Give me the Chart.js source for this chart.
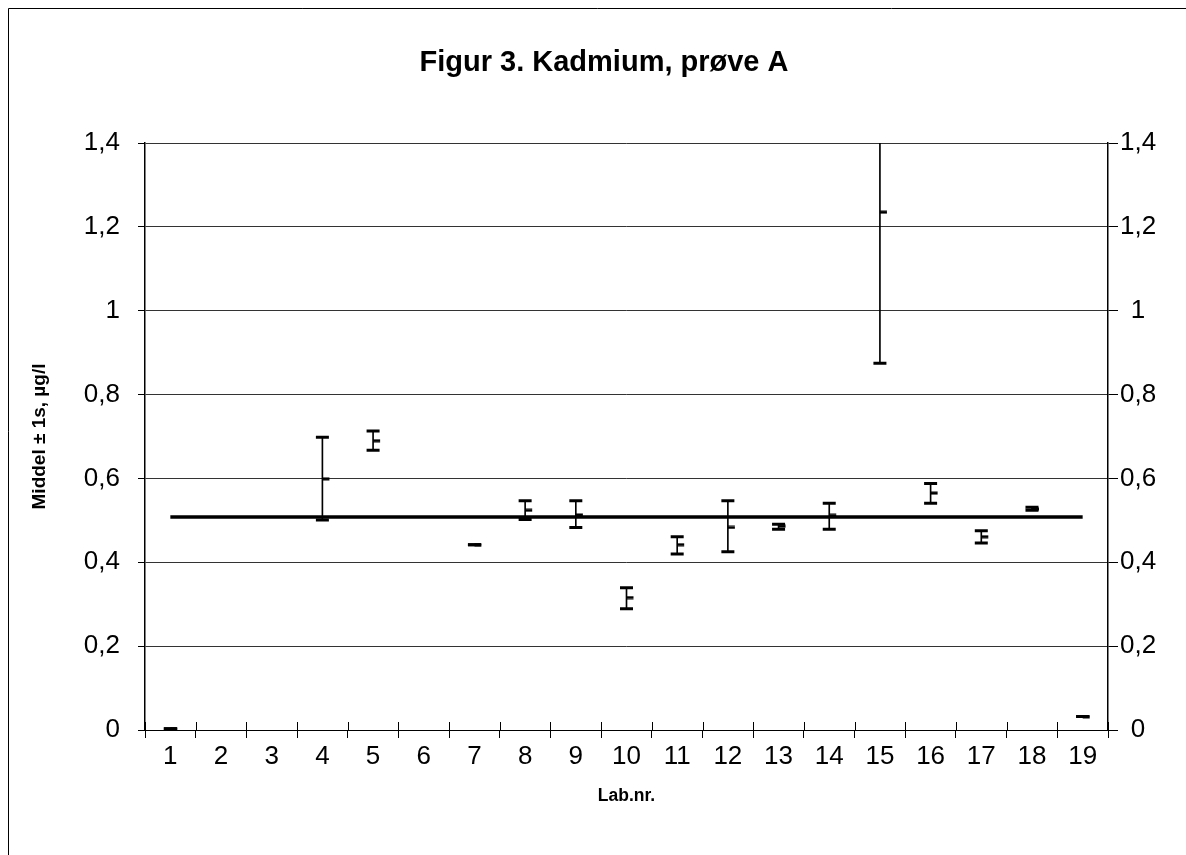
<!DOCTYPE html>
<html>
<head>
<meta charset="utf-8">
<title>Figur 3. Kadmium, prøve A</title>
<script src="https://cdn.jsdelivr.net/npm/chart.js@4/dist/chart.umd.min.js"></script>
<style>
  html, body { margin: 0; padding: 0; background: #fff; }
  #wrap { width: 1186px; height: 855px; position: relative; }
</style>
</head>
<body>
<div id="wrap"><canvas id="grafKadmium"></canvas></div>
<script>
// Lab.nr. 1-19 (2, 3 og 6 uden resultat)
const labNr = ['1', '2', '3', '4', '5', '6', '7', '8', '9', '10',
               '11', '12', '13', '14', '15', '16', '17', '18', '19'];
const middel = [0.003, null, null, 0.599, 0.690, null, 0.442, 0.524, 0.513, 0.316,
                0.442, 0.483, 0.486, 0.512, 1.235, 0.565, 0.461, 0.527, 0.032];
const hoej = [0.003, null, null, 0.698, 0.713, null, 0.442, 0.547, 0.547, 0.339,
              0.461, 0.547, 0.491, 0.541, 1.595, 0.588, 0.475, 0.531, 0.032];
const lav = [0.003, null, null, 0.501, 0.667, null, 0.442, 0.502, 0.483, 0.289,
             0.420, 0.425, 0.479, 0.479, 0.875, 0.541, 0.446, 0.524, 0.032];
const samletMiddel = 0.508;
const yTicks = [0, 0.2, 0.4, 0.6, 0.8, 1, 1.2, 1.4];

const FONT = "'Liberation Sans', Arial, sans-serif";

// kort streg til hoejre for lodret linje (middel-markering)
function lavMiddelStreg() {
    const c = document.createElement('canvas');
    c.width = 16;
    c.height = 4;
    const g = c.getContext('2d');
    g.fillStyle = '#000';
    g.fillRect(8, 0.5, 7, 3);
    return c;
}

function fmt(v) {
    return String(Math.round(v * 10) / 10).replace('.', ',');
}

const baggrund = {
    id: 'baggrund',
    beforeDraw(chart) {
        const ctx = chart.ctx;
        ctx.save();
        ctx.fillStyle = '#fff';
        ctx.fillRect(0, 0, chart.width, chart.height);
        ctx.strokeStyle = '#000';
        ctx.lineWidth = 1;
        ctx.beginPath();
        ctx.moveTo(8.5, chart.height);
        ctx.lineTo(8.5, 8.5);
        ctx.lineTo(chart.width, 8.5);
        ctx.stroke();
        ctx.restore();
    }
};

const overskrift = {
    id: 'overskrift',
    afterDraw(chart) {
        const ctx = chart.ctx;
        ctx.save();
        ctx.fillStyle = '#000';
        ctx.font = 'bold 29px ' + FONT;
        ctx.textAlign = 'center';
        ctx.textBaseline = 'middle';
        ctx.fillText('Figur 3. Kadmium, prøve A', 604, 63);
        ctx.restore();
    }
};

// indvendige tickmarks paa x-aksen (Excel "kryds")
const xKryds = {
    id: 'xKryds',
    afterDraw(chart) {
        const x = chart.scales.x;
        const ctx = chart.ctx;
        const w = x.getPixelForValue(1) - x.getPixelForValue(0);
        ctx.save();
        ctx.strokeStyle = '#000';
        ctx.lineWidth = 1;
        ctx.beginPath();
        for (let i = 0; i <= labNr.length; i++) {
            const px = Math.round(x.getPixelForValue(i) - w / 2) + 0.5;
            ctx.moveTo(px, x.top - 8);
            ctx.lineTo(px, x.top);
        }
        ctx.stroke();
        ctx.restore();
    }
};

const ctx = document.getElementById('grafKadmium').getContext('2d');
new Chart(ctx, {
    type: 'bar',
    data: {
        labels: labNr,
        datasets: [
            {
                type: 'line',
                label: 'Samlet middel',
                data: labNr.map(() => samletMiddel),
                borderColor: '#000',
                borderWidth: 3.5,
                pointRadius: 0,
                order: 1
            },
            {
                type: 'line',
                label: 'Middel',
                data: middel,
                showLine: false,
                pointStyle: lavMiddelStreg(),
                order: 0
            },
            {
                type: 'line',
                label: '+1s',
                data: hoej,
                showLine: false,
                pointStyle: 'line',
                pointRadius: 6.5,
                pointBorderWidth: 3,
                pointBorderColor: '#000',
                order: 0
            },
            {
                type: 'line',
                label: '-1s',
                data: lav,
                showLine: false,
                pointStyle: 'line',
                pointRadius: 6.5,
                pointBorderWidth: 3,
                pointBorderColor: '#000',
                order: 0
            },
            {
                type: 'bar',
                label: 'Spredning',
                data: hoej.map((h, i) => h == null ? null : [lav[i], h]),
                backgroundColor: '#000',
                barThickness: 1,
                order: 2
            }
        ]
    },
    options: {
        responsive: true,
        maintainAspectRatio: false,
        animation: false,
        layout: { padding: { top: 143, left: 0, right: 0, bottom: 0 } },
        plugins: {
            legend: { display: false },
            tooltip: { enabled: false },
            title: { display: false }
        },
        scales: {
            x: {
                offset: true,
                grid: {
                    offset: true,
                    drawOnChartArea: false,
                    drawTicks: true,
                    tickLength: 8,
                    tickColor: '#000'
                },
                border: { display: true, color: '#000', width: 1 },
                ticks: {
                    color: '#000',
                    font: { family: FONT, size: 26 },
                    padding: 3,
                    maxRotation: 0,
                    autoSkip: false
                },
                title: {
                    display: true,
                    text: 'Lab.nr.',
                    color: '#000',
                    font: { family: FONT, size: 17.5, weight: 'bold' },
                    padding: { top: 0, bottom: 48 }
                },
                afterFit(s) { s.height = 125; }
            },
            y: {
                position: 'left',
                min: 0,
                max: 1.4,
                afterBuildTicks(s) { s.ticks = yTicks.map(v => ({ value: v })); },
                grid: {
                    color: '#333',
                    lineWidth: 1,
                    drawTicks: true,
                    tickLength: 7,
                    tickColor: '#000'
                },
                border: { display: true, color: '#000', width: 1.5 },
                ticks: {
                    color: '#000',
                    font: { family: FONT, size: 26 },
                    padding: 18,
                    callback: v => fmt(v)
                },
                title: {
                    display: true,
                    text: 'Middel ± 1s, µg/l',
                    color: '#000',
                    font: { family: FONT, size: 19, weight: 'bold' },
                    padding: { top: 28, bottom: 0 }
                },
                afterFit(s) { s.width = 145; }
            },
            y2: {
                position: 'right',
                min: 0,
                max: 1.4,
                afterBuildTicks(s) { s.ticks = yTicks.map(v => ({ value: v })); },
                grid: {
                    drawOnChartArea: false,
                    drawTicks: true,
                    tickLength: 10,
                    tickColor: '#000'
                },
                border: { display: true, color: '#000', width: 1.5 },
                ticks: {
                    color: '#000',
                    font: { family: FONT, size: 26 },
                    padding: 2,
                    crossAlign: 'center',
                    callback: v => fmt(v)
                },
                afterFit(s) { s.width = 78; }
            }
        }
    },
    plugins: [baggrund, overskrift, xKryds]
});
</script>
</body>
</html>
